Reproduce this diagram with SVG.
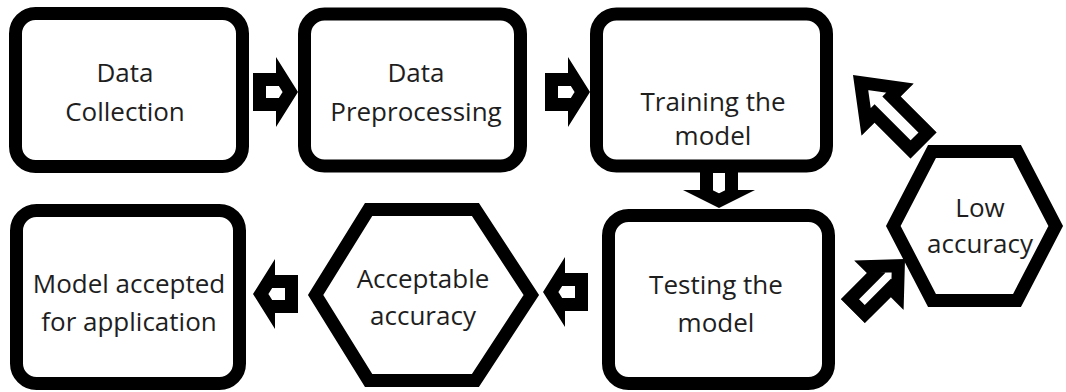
<svg xmlns="http://www.w3.org/2000/svg" xmlns:xlink="http://www.w3.org/1999/xlink" width="1066" height="392" viewBox="0 0 1066 392">
  <style>
    .box { fill: #fff; stroke: #000; stroke-width: 13; }
    .hex { fill: #fff; stroke: #000; stroke-width: 13; stroke-linejoin: miter; }
    .arrow { fill: #fff; stroke: #000; stroke-width: 26; stroke-linejoin: miter; stroke-miterlimit: 10; }
    .label { font-family: "Open Sans", "Noto Sans", "DejaVu Sans", sans-serif; font-size: 26px; fill: #1e1e1e; text-anchor: middle; }
  </style>
  <defs>
    <!-- block arrow outlines, tail at x=0, pointing along +x -->
    <polygon id="arrowShort" points="0,-19 23,-19 23,-35 45,0 23,35 23,19 0,19"/>
    <polygon id="arrowDown" points="0,-19 30,-19 30,-36 48,0 30,36 30,19 0,19"/>
    <polygon id="arrowLong" points="0,-18.5 51,-18.5 51,-37 100,0 51,37 51,18.5 0,18.5"/>
    <polygon id="arrowMid" points="0,-17 37,-17 37,-35 74,0 37,35 37,17 0,17"/>
    <!-- clipping keeps the wide stroke on the inside of each outline -->
    <clipPath id="clipShort"><use xlink:href="#arrowShort"/></clipPath>
    <clipPath id="clipDown"><use xlink:href="#arrowDown"/></clipPath>
    <clipPath id="clipLong"><use xlink:href="#arrowLong"/></clipPath>
    <clipPath id="clipMid"><use xlink:href="#arrowMid"/></clipPath>
  </defs>

  <rect width="1066" height="392" fill="#fff"/>

  <g id="connectors">
    <g transform="translate(253,92)"><use xlink:href="#arrowShort" class="arrow" clip-path="url(#clipShort)"/></g>
    <g transform="translate(545,92)"><use xlink:href="#arrowShort" class="arrow" clip-path="url(#clipShort)"/></g>
    <g transform="translate(719,160) rotate(90)"><use xlink:href="#arrowDown" class="arrow" clip-path="url(#clipDown)"/></g>
    <g transform="translate(852.7,311.3) rotate(-45)"><use xlink:href="#arrowMid" class="arrow" clip-path="url(#clipMid)"/></g>
    <g transform="translate(923.7,145.7) rotate(-135)"><use xlink:href="#arrowLong" class="arrow" clip-path="url(#clipLong)"/></g>
    <g transform="translate(588,292) rotate(180)"><use xlink:href="#arrowShort" class="arrow" clip-path="url(#clipShort)"/></g>
    <g transform="translate(298,294) rotate(180)"><use xlink:href="#arrowShort" class="arrow" clip-path="url(#clipShort)"/></g>
  </g>

  <g id="data-collection">
    <rect class="box" x="15.5" y="13.5" width="227" height="153" rx="20"/>
    <text class="label" x="125" y="82">Data</text>
    <text class="label" x="125" y="121">Collection</text>
  </g>

  <g id="data-preprocessing">
    <rect class="box" x="304.5" y="14" width="216" height="152" rx="20"/>
    <text class="label" x="416" y="82">Data</text>
    <text class="label" x="416" y="121">Preprocessing</text>
  </g>

  <g id="training">
    <rect class="box" x="596.5" y="14" width="230" height="152" rx="20"/>
    <text class="label" x="713" y="111">Training the</text>
    <text class="label" x="713" y="145">model</text>
  </g>

  <g id="testing">
    <rect class="box" x="608.5" y="215.5" width="220" height="168" rx="20"/>
    <text class="label" x="716" y="294">Testing the</text>
    <text class="label" x="716" y="332">model</text>
  </g>

  <g id="low-accuracy">
    <polygon class="hex" points="893.3,226 932,151.5 1017,151.5 1055.7,226 1017,300.5 932,300.5"/>
    <text class="label" x="980" y="217">Low</text>
    <text class="label" x="980" y="253">accuracy</text>
  </g>

  <g id="acceptable-accuracy">
    <polygon class="hex" points="315.6,295 368.6,209.5 475.4,209.5 531.3,295 475.4,380.5 368.6,380.5"/>
    <text class="label" x="423" y="288">Acceptable</text>
    <text class="label" x="423" y="325">accuracy</text>
  </g>

  <g id="model-accepted">
    <rect class="box" x="16.5" y="210.5" width="223" height="173" rx="20"/>
    <text class="label" x="129" y="293">Model accepted</text>
    <text class="label" x="129" y="331">for application</text>
  </g>
</svg>
